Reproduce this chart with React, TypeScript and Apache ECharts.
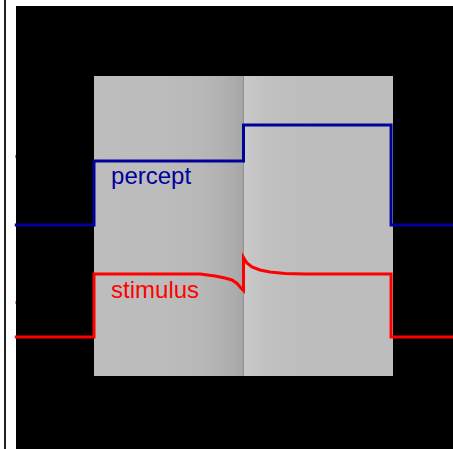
import React, { useEffect, useRef } from "react";
import * as echarts from "echarts";

// Percept (blue) step profile
const perceptX = [-0.53, 0, 0, 1, 1, 1.987, 1.987, 2.41];
const perceptY = [22.4, 22.4, 28.8, 28.8, 32.4, 32.4, 22.4, 22.4];

// Stimulus (red) luminance profile with Cornsweet edge
const stimulusX = [-0.53, 0, 0, 0.709, 0.809, 0.876, 0.923, 0.957, 0.983, 1.0, 1.0, 1.023, 1.057, 1.11, 1.177, 1.278, 1.411, 1.987, 1.987, 2.41];
const stimulusY = [11.2, 11.2, 17.5, 17.5, 17.3, 17.1, 16.9, 16.55, 16.1, 15.85, 19.15, 18.6, 18.2, 17.9, 17.7, 17.55, 17.5, 17.5, 11.2, 11.2];

// Gray surface (two halves)
const surfaceLeftX = [0, 1];
const surfaceRightX = [1, 2];
const surfaceY = [7.3, 37.3];

// Labels
const labelNames = ["percept", "stimulus"];
const labelX = [0.114, 0.114];
const labelY = [27.33, 15.93];

const BLUE = "#00009a";
const RED = "#ff0000";

export default function App() {
  const ref = useRef<HTMLDivElement>(null);
  useEffect(() => {
    if (!ref.current) return;
    const chart = echarts.init(ref.current, null, { renderer: "svg" });
    const zip = (xs: number[], ys: number[]) => xs.map((x, i) => [x, ys[i]]);
    const leftGrad = {
      type: "linear", x: 0, y: 0, x2: 1, y2: 0,
      colorStops: [
        { offset: 0, color: "#bdbdbd" },
        { offset: 0.45, color: "#bcbcbc" },
        { offset: 0.7, color: "#b8b8b8" },
        { offset: 0.85, color: "#b2b2b2" },
        { offset: 0.95, color: "#ababab" },
        { offset: 1, color: "#a5a5a5" },
      ],
    };
    const rightGrad = {
      type: "linear", x: 0, y: 0, x2: 1, y2: 0,
      colorStops: [
        { offset: 0, color: "#cacaca" },
        { offset: 0.05, color: "#c6c6c6" },
        { offset: 0.15, color: "#c1c1c1" },
        { offset: 0.3, color: "#bebebe" },
        { offset: 0.5, color: "#bdbdbd" },
        { offset: 1, color: "#bdbdbd" },
      ],
    };
    chart.setOption({
      animation: false,
      backgroundColor: "#ffffff",
      grid: {
        left: 16, top: 6, width: 437, height: 443,
        show: true, backgroundColor: "#000000", borderWidth: 0,
      },
      xAxis: { type: "value", min: -0.5217, max: 2.4013, show: false },
      yAxis: { type: "value", min: 0, max: 44.3, show: false },
      graphic: [
        { type: "rect", left: 4, top: 0, shape: { width: 2, height: 449 }, style: { fill: "#222222" } },
        { type: "rect", left: 15, top: 155, shape: { width: 1, height: 3 }, style: { fill: "#8a8ac8" } },
        { type: "rect", left: 15, top: 301, shape: { width: 1, height: 3 }, style: { fill: "#e89090" } },
      ],
      series: [
        {
          type: "line",
          data: [],
          z: 1,
          markArea: {
            silent: true,
            data: [
              [
                { coord: [surfaceLeftX[0], surfaceY[0]], itemStyle: { color: leftGrad } },
                { coord: [surfaceLeftX[1], surfaceY[1]] },
              ],
              [
                { coord: [surfaceRightX[0], surfaceY[0]], itemStyle: { color: rightGrad } },
                { coord: [surfaceRightX[1], surfaceY[1]] },
              ],
            ],
          },
        },
        {
          type: "line",
          name: "percept",
          data: zip(perceptX, perceptY),
          symbol: "none",
          z: 3,
          lineStyle: { color: BLUE, width: 3, cap: "butt", join: "miter" },
        },
        {
          type: "line",
          name: "stimulus",
          data: zip(stimulusX, stimulusY),
          symbol: "none",
          z: 3,
          lineStyle: { color: RED, width: 3, cap: "butt", join: "miter" },
        },
        {
          type: "scatter",
          z: 4,
          symbolSize: 0,
          itemStyle: { opacity: 1 },
          emphasis: { disabled: true },
          data: labelNames.map((n, i) => ({
            value: [labelX[i], labelY[i]],
            itemStyle: { opacity: 1 },
            label: {
              show: true,
              formatter: n,
              position: "right",
              distance: 0,
              opacity: 1,
              color: i === 0 ? BLUE : RED,
              fontSize: 24,
              fontFamily: "'Liberation Sans', Arial, sans-serif",
            },
          })),
        },
      ],
    });
    return () => chart.dispose();
  }, []);
  return (
    <div
      ref={ref}
      style={{ position: "absolute", left: 0, top: 0, width: 453, height: 449 }}
    />
  );
}
